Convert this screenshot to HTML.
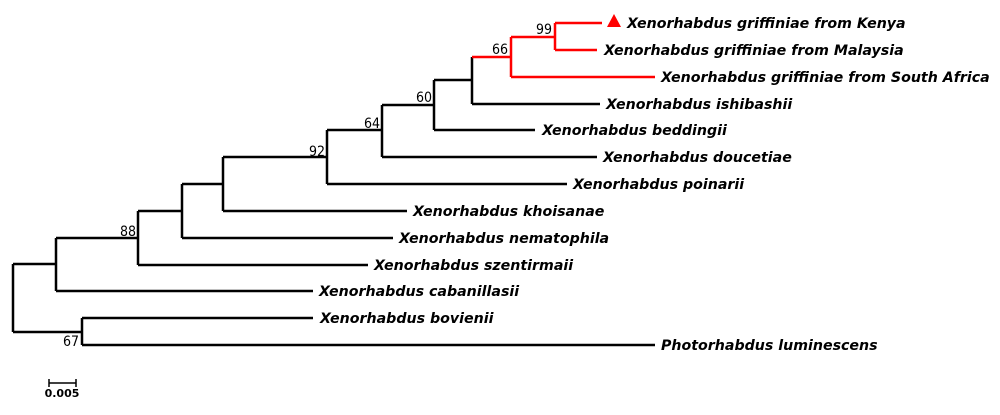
<!DOCTYPE html>
<html><head><style>
body{margin:0;background:#fff;}
svg text.l{font-family:"DejaVu Sans",sans-serif;font-weight:bold;font-style:italic;font-size:14.2px;}
svg text.b{font-family:"DejaVu Sans Condensed","DejaVu Sans",sans-serif;font-stretch:condensed;font-size:14px;text-anchor:end;}
</style></head><body>
<svg width="1000" height="410" xmlns="http://www.w3.org/2000/svg">
<g fill="none" stroke="#000" stroke-width="2.5">
<path d="M13,264V332M13,264H56M13,332H82"/>
<path d="M82,318V345M82,318H313M82,345H655"/>
<path d="M56,238V291M56,291H313M56,238H138"/>
<path d="M138,211V265M138,265H368M138,211H182"/>
<path d="M182,184V238M182,238H393M182,184H223"/>
<path d="M223,157V211M223,211H407M223,157H327"/>
<path d="M327,130V184M327,184H567M327,130H382"/>
<path d="M382,105V157M382,157H597M382,105H434"/>
<path d="M434,80V130M434,130H535M434,80H472"/>
<path d="M472,57V104M472,104H600"/>
<path d="M49,383H76M49,379V387M76,379V387" stroke-width="1.5"/>
</g>
<g fill="none" stroke="#f00" stroke-width="2.5">
<path d="M472,57H511M511,37V77M511,77H655M511,37H555M555,23V50M555,23H602M555,50H597"/>
</g>
<polygon points="607,27 614,14 621,27" fill="#f00"/>
<text class="l" x="627" y="28">Xenorhabdus griffiniae from Kenya</text>
<text class="l" x="604" y="55">Xenorhabdus griffiniae from Malaysia</text>
<text class="l" x="661" y="82">Xenorhabdus griffiniae from South Africa</text>
<text class="l" x="606" y="109">Xenorhabdus ishibashii</text>
<text class="l" x="542" y="135">Xenorhabdus beddingii</text>
<text class="l" x="603" y="162">Xenorhabdus doucetiae</text>
<text class="l" x="573" y="189">Xenorhabdus poinarii</text>
<text class="l" x="413" y="216">Xenorhabdus khoisanae</text>
<text class="l" x="399" y="243">Xenorhabdus nematophila</text>
<text class="l" x="374" y="270">Xenorhabdus szentirmaii</text>
<text class="l" x="319" y="296">Xenorhabdus cabanillasii</text>
<text class="l" x="320" y="323">Xenorhabdus bovienii</text>
<text class="l" x="661" y="350">Photorhabdus luminescens</text>
<text class="b" x="552" y="34">99</text>
<text class="b" x="508" y="54">66</text>
<text class="b" x="432" y="102">60</text>
<text class="b" x="380" y="128">64</text>
<text class="b" x="325" y="156">92</text>
<text class="b" x="136" y="236">88</text>
<text class="b" x="79" y="346">67</text>
<text x="62" y="397" font-family="DejaVu Sans,sans-serif" font-weight="bold" font-size="11" text-anchor="middle">0.005</text>
</svg>
</body></html>
